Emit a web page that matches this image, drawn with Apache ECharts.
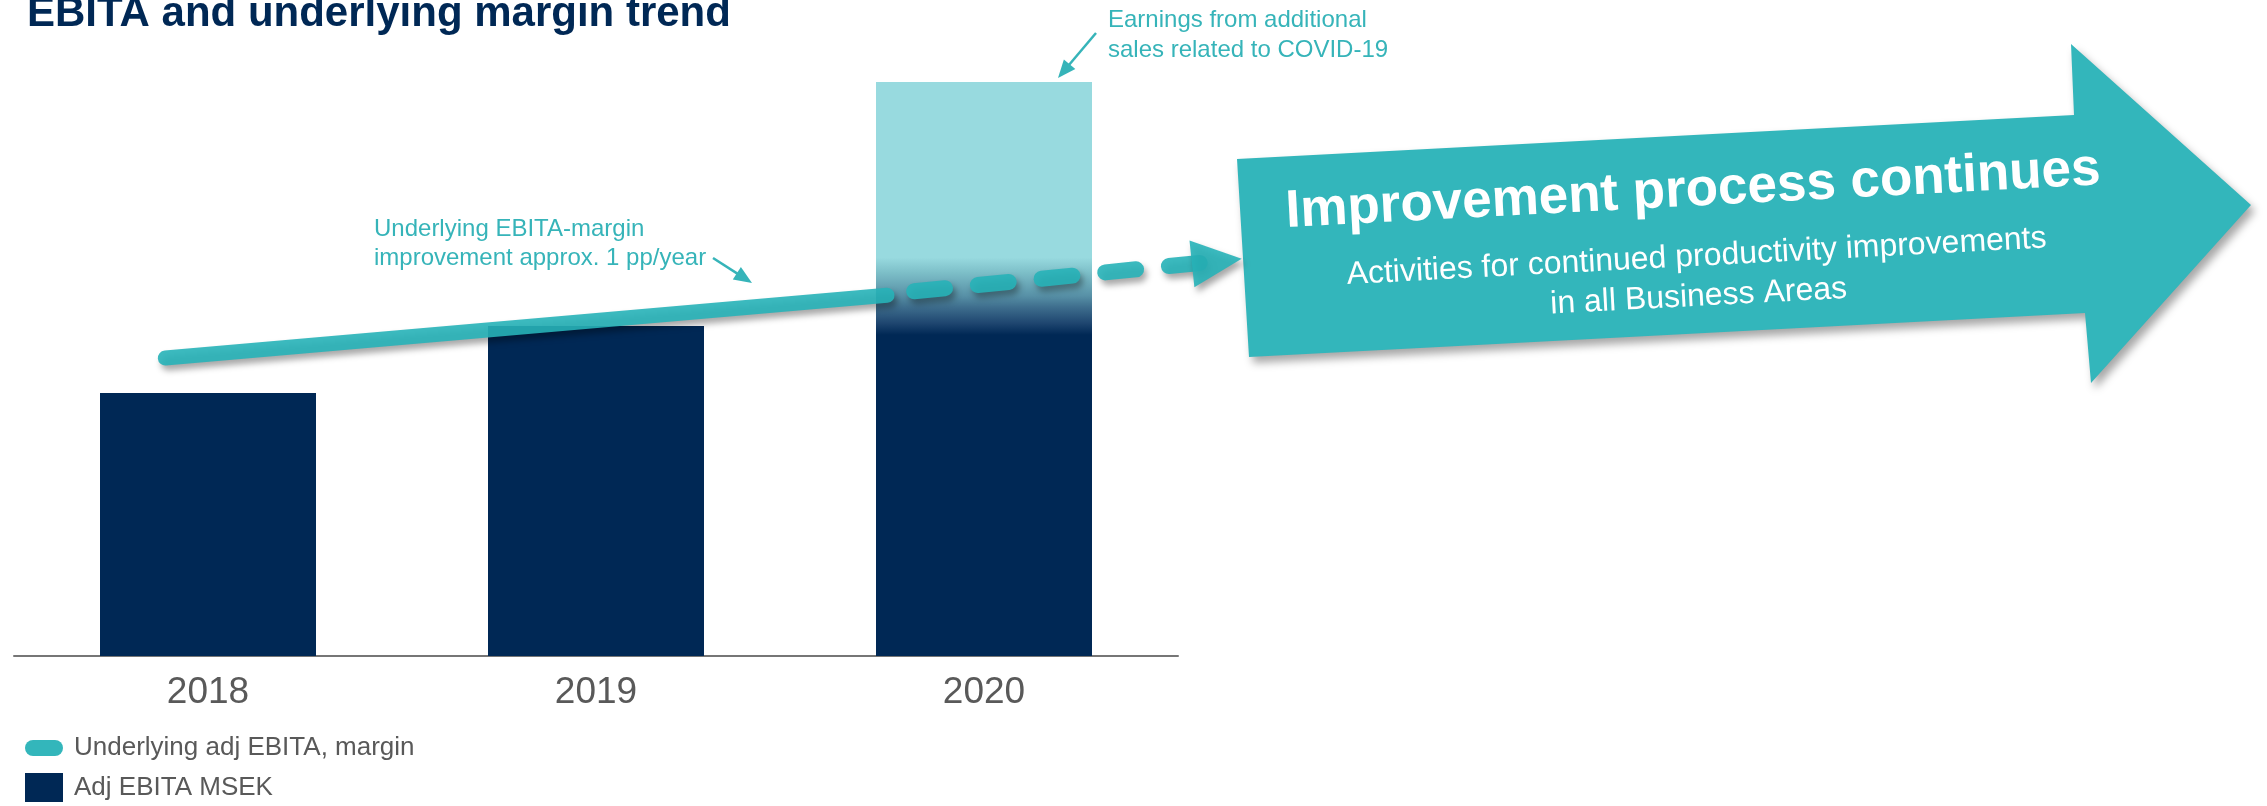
<!DOCTYPE html>
<html>
<head>
<meta charset="utf-8">
<script src="https://cdn.jsdelivr.net/npm/echarts@6/dist/echarts.min.js"></script>
<style>
  html, body { margin: 0; padding: 0; background: #ffffff; }
  #chart { width: 2267px; height: 806px; }
</style>
</head>
<body>
<div id="chart"></div>
<script>
// ---- data -------------------------------------------------------------
const years = ['2018', '2019', '2020'];
// Adjusted EBITA, MSEK (underlying part)
const adjEbita = [2630, 3300, 3600];
// Additional earnings from COVID-19 related sales, MSEK
const covidEarnings = [null, null, 2140];
// Underlying adj EBITA margin trend, [year position, %]
const marginTrend = [[2017.89, 10.94], [2019.75, 12.82]];
// Continued improvement outlook, [year position, %]
const marginOutlook = [[2019.82, 12.94], [2020.60, 13.84]];

// ---- styling ----------------------------------------------------------
const NAVY = '#002855';
const LIGHT = '#98DADF';
const TEAL = '#33B6BB';
const LINE = '#27B3B8';
const NOTE = '#36B4B9';
const GREY = '#595959';
const FONT = '"Liberation Sans", Arial, sans-serif';

const grad = stops => new echarts.graphic.LinearGradient(0, 0, 0, 1,
  stops.map(([offset, color]) => ({ offset, color })));

// soft fade between the COVID-19 part and the underlying part of 2020
const covidFade = grad([[0, LIGHT], [0.82, LIGHT], [0.89, '#7DBFC8'], [1, '#5790A6']]);
const baseFade = grad([[0, '#5790A6'], [0.03, '#3F6F8E'], [0.075, '#1F4670'], [0.108, NAVY], [1, NAVY]]);

const shadow = {
  shadowColor: 'rgba(0,0,0,0.38)',
  shadowBlur: 6,
  shadowOffsetX: 3,
  shadowOffsetY: 5
};

// small callout arrow: shaft + filled head
function callout(x1, y1, x2, y2) {
  const len = Math.hypot(x2 - x1, y2 - y1);
  const ux = (x2 - x1) / len, uy = (y2 - y1) / len;
  const L = 18, W = 15;
  const bx = x2 - ux * L, by = y2 - uy * L;
  const px = -uy * W / 2, py = ux * W / 2;
  return [
    { type: 'line', z: 20,
      shape: { x1: x1, y1: y1, x2: bx + ux * 2, y2: by + uy * 2 },
      style: { stroke: NOTE, lineWidth: 2.5 } },
    { type: 'polygon', z: 20,
      shape: { points: [[x2, y2], [bx + px, by + py], [bx - px, by - py]] },
      style: { fill: NOTE } }
  ];
}

const ROT = 3 * Math.PI / 180;
const textStyle = (text, font) => ({
  text: text, fill: '#ffffff', font: font,
  align: 'center', verticalAlign: 'middle', textAlign: 'center', textVerticalAlign: 'middle'
});

const chart = echarts.init(document.getElementById('chart'), null, { renderer: 'canvas' });

chart.setOption({
  animation: false,
  backgroundColor: '#ffffff',
  title: {
    text: 'EBITA and underlying margin trend',
    left: 27,
    top: -7,
    padding: 0,
    textStyle: { fontSize: 42, fontWeight: 'bold', color: NAVY, fontFamily: FONT }
  },
  legend: [
    {
      data: [{ name: 'Underlying adj EBITA, margin',
               icon: 'path://M8,0 H30 A8,8 0 0 1 30,16 H8 A8,8 0 0 1 8,0 Z' }],
      left: 25, top: 735, padding: 0, itemWidth: 38, itemHeight: 16,
      selectedMode: false,
      textStyle: { fontSize: 26, color: GREY, fontFamily: FONT, padding: [0, 0, 0, 6] }
    },
    {
      data: [{ name: 'Adj EBITA MSEK', icon: 'rect' }],
      left: 25, top: 773, padding: 0, itemWidth: 38, itemHeight: 29,
      selectedMode: false,
      textStyle: { fontSize: 26, color: GREY, fontFamily: FONT, padding: [0, 0, 0, 6] }
    }
  ],
  grid: [
    // bars
    { left: 14, right: 1089, top: 56, bottom: 150, containLabel: false },
    // margin trend, same scale per year but reaching past 2020
    { left: 14, right: 895, top: 56, bottom: 150, containLabel: false }
  ],
  xAxis: [
    {
      type: 'category', data: years, boundaryGap: true, gridIndex: 0,
      axisLine: { lineStyle: { color: '#767676', width: 2 } },
      axisTick: { show: false },
      axisLabel: { fontSize: 37, color: GREY, fontFamily: FONT, margin: 18 },
      splitLine: { show: false }
    },
    { type: 'value', gridIndex: 1, min: 2017.5, max: 2021, show: false, splitLine: { show: false } }
  ],
  yAxis: [
    { type: 'value', gridIndex: 0, min: 0, max: 6000, interval: 1000, show: false, splitLine: { show: false } },
    { type: 'value', gridIndex: 1, min: 2, max: 20, show: false, splitLine: { show: false } }
  ],
  series: [
    {
      name: 'Adj EBITA MSEK', type: 'bar', stack: 'ebita', barWidth: 216,
      itemStyle: { color: NAVY },
      data: adjEbita.map((v, i) => i === 2 ? { value: v, itemStyle: { color: baseFade } } : v),
      z: 2
    },
    {
      name: 'COVID-19 related earnings', type: 'bar', stack: 'ebita', barWidth: 216,
      itemStyle: { color: covidFade },
      data: covidEarnings.map(v => v == null ? '-' : v),
      z: 2
    },
    {
      name: 'Underlying adj EBITA, margin', type: 'line',
      xAxisIndex: 1, yAxisIndex: 1, clip: false,
      symbol: 'none',
      itemStyle: { color: TEAL },
      lineStyle: Object.assign({ color: LINE, width: 15, cap: 'round', opacity: 0.9 }, shadow),
      data: marginTrend,
      z: 5
    },
    {
      name: 'Outlook', type: 'line',
      xAxisIndex: 1, yAxisIndex: 1, clip: false,
      symbol: 'triangle', symbolSize: [47, 50], symbolRotate: -84,
      itemStyle: Object.assign({ color: LINE, opacity: 0.9 }, shadow),
      lineStyle: Object.assign({ color: LINE, width: 16, cap: 'round', type: [31, 33], opacity: 0.9 }, shadow),
      data: marginOutlook.map((p, i) => i === 0 ? { value: p, symbol: 'none' } : p),
      z: 5
    }
  ],
  graphic: [
    // big arrow
    {
      type: 'polygon', z: 1,
      shape: { points: [[1237, 159], [2074, 115], [2071, 44], [2251, 205], [2091, 383], [2085, 313], [1249, 357]] },
      style: { fill: TEAL, shadowColor: 'rgba(0,0,0,0.35)', shadowBlur: 8, shadowOffsetX: 4, shadowOffsetY: 6 }
    },
    {
      type: 'group', x: 1694, y: 208, rotation: ROT, z: 3,
      children: [
        { type: 'text', x: 0, y: -17, z: 3,
          style: textStyle('Improvement process continues', 'bold 53px "Liberation Sans", Arial, sans-serif') },
        { type: 'text', x: 0, y: 49, z: 3,
          style: textStyle('Activities for continued productivity improvements', '32px "Liberation Sans", Arial, sans-serif') },
        { type: 'text', x: 0, y: 89, z: 3,
          style: textStyle('in all Business Areas', '32px "Liberation Sans", Arial, sans-serif') }
      ]
    },
    // notes
    {
      type: 'text', x: 1108, y: 5, z: 20,
      style: { text: 'Earnings from additional\nsales related to COVID-19', fill: NOTE,
               font: '24px "Liberation Sans", Arial, sans-serif', lineHeight: 30,
               align: 'left', verticalAlign: 'top', textAlign: 'left', textVerticalAlign: 'top' }
    },
    {
      type: 'text', x: 374, y: 215, z: 20,
      style: { text: 'Underlying EBITA-margin\nimprovement approx. 1 pp/year', fill: NOTE,
               font: '24px "Liberation Sans", Arial, sans-serif', lineHeight: 29,
               align: 'left', verticalAlign: 'top', textAlign: 'left', textVerticalAlign: 'top' }
    },
    ...callout(1096, 33, 1058, 78),
    ...callout(713, 258, 752, 283)
  ]
});
</script>
</body>
</html>
